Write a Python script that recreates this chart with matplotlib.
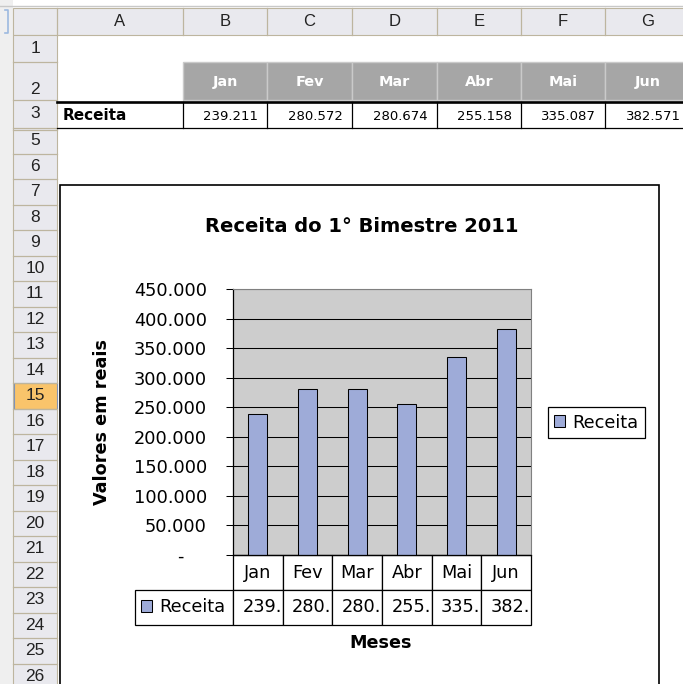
import matplotlib
matplotlib.use("Agg")
import matplotlib.pyplot as plt
from matplotlib.patches import Rectangle
from matplotlib.table import Table
from matplotlib.ticker import FuncFormatter

# dados da planilha
meses = ["Jan", "Fev", "Mar", "Abr", "Mai", "Jun"]
receita = [239211, 280572, 280674, 255158, 335087, 382571]
serie = "Receita"
titulo = "Receita do 1° Bimestre 2011"
eixo_y = "Valores em reais"
eixo_x = "Meses"
y_ticks = [0, 50000, 100000, 150000, 200000, 250000, 300000, 350000, 400000, 450000]
col_letras = ["A", "B", "C", "D", "E", "F", "G"]
linhas = [1, 2, 3, 5, 6, 7, 8, 9, 10, 11, 12, 13, 14, 15, 16, 17, 18, 19, 20,
          21, 22, 23, 24, 25, 26]
linha_ativa = 15

plt.rcParams["font.family"] = ["DejaVu Sans"]
NARROW = ["Liberation Sans Narrow", "Liberation Sans", "DejaVu Sans"]

HDR = "#E9E9EE"
TAN = "#BDB59F"
CINZA_CAB = "#A6A6A6"
AZUL = "#9EABD8"
FUNDO = "#CDCDCD"


def br(v):
    # formato contabil do Excel: ponto como milhar, traco para zero
    if v == 0:
        return "-    "
    return f"{int(v):,}".replace(",", ".")


W, H = 683, 684
fig = plt.figure(figsize=(W / 100, H / 100), dpi=100)

# --- planilha (coordenadas em pixels) ---
sheet = fig.add_axes([0, 0, 1, 1])
sheet.set_xlim(0, W)
sheet.set_ylim(H, 0)
sheet.axis("off")


def box(x0, y0, x1, y1, **kw):
    sheet.add_patch(Rectangle((x0, y0), x1 - x0, y1 - y0, **kw))


col_edges = [57, 183, 267, 352, 437, 521, 605, 690]
row_edges = [35, 62, 100, 128]
for k in range(len(linhas) - 3):
    row_edges.append(128 + 25.5 * (k + 1))

box(0, 0, 13, H, fc="#EFEFEF", ec="none")
sheet.plot([0, W], [6, 6], color="#C8C8C8", lw=1)
sheet.plot([5, 8, 8, 5], [10, 10, 33, 33], color="#9DB9E0", lw=1.2)

# cabecalho das colunas
box(13, 8, W + 10, 35, fc=HDR, ec=TAN, lw=0.8)
for x in col_edges:
    sheet.plot([x, x], [8, 35], color=TAN, lw=0.9)
for i, letra in enumerate(col_letras):
    cx = (col_edges[i] + col_edges[i + 1]) / 2
    sheet.text(cx, 22, letra, ha="center", va="center", fontsize=12,
               family=NARROW, color="#222222")

# cabecalho das linhas
box(13, 35, 57, H + 10, fc=HDR, ec=TAN, lw=0.8)
for i, n in enumerate(linhas):
    y0, y1 = row_edges[i], row_edges[i + 1]
    if n == linha_ativa:
        box(13.5, y0, 56.5, y1, fc="#F9C46B", ec="#7F93B8", lw=0.8)
    sheet.plot([13, 57], [y1, y1], color=TAN, lw=0.9)
    ty = y1 - 10 if n == 2 else (y0 + y1) / 2
    sheet.text(35, ty, str(n), ha="center", va="center", fontsize=12.5,
               family=NARROW, color="#222222")
sheet.plot([13, 57], [129.5, 129.5], color=TAN, lw=0.9)

# linha 2: meses em cinza
for i, m in enumerate(meses):
    box(col_edges[i + 1], 62, col_edges[i + 2], 100, fc=CINZA_CAB,
        ec="#CACACA", lw=1)
    cx = (col_edges[i + 1] + col_edges[i + 2]) / 2
    sheet.text(cx, 82, m, ha="center", va="center", fontsize=10.4,
               fontweight="bold", color="white")

# linha 3: valores
sheet.plot([57, W], [101.5, 101.5], color="black", lw=1.9)
sheet.plot([57, W], [128, 128], color="black", lw=0.9)
for x in col_edges[1:-1]:
    sheet.plot([x, x], [102, 128], color="black", lw=0.9)
sheet.text(63, 116, serie, ha="left", va="center", fontsize=11,
           fontweight="bold")
for i, v in enumerate(receita):
    sheet.text(col_edges[i + 2] - 9, 116, br(v), ha="right", va="center",
               fontsize=9.5)

# moldura do grafico
box(60, 185, 659, H + 20, fc="white", ec="black", lw=1.2)

# --- grafico ---
AX_L, AX_R, AX_T, AX_B = 233, 531, 289, 555
AW, AH = AX_R - AX_L, AX_B - AX_T
ax = fig.add_axes([AX_L / W, 1 - AX_B / H, AW / W, AH / H])


def ax_x(px):
    return (px - AX_L) / AW


def ax_y(py):
    return (AX_B - py) / AH


x = list(range(len(meses)))
barras = ax.bar(x, receita, width=0.38, color=AZUL, edgecolor="black",
                linewidth=0.75, label=serie, zorder=2)
ax.set_xlim(-0.5, len(meses) - 0.5)
ax.set_ylim(0, 450000)
ax.set_facecolor(FUNDO)
ax.set_axisbelow(True)
ax.yaxis.grid(True, color="black", lw=0.75)
ax.set_yticks(y_ticks)
ax.yaxis.set_major_formatter(FuncFormatter(lambda v, p: br(v)))
ax.tick_params(axis="y", length=5, width=0.75, pad=13.7, labelsize=12.8,
               direction="out")
ax.set_xticks([])
for s in ["top", "right"]:
    ax.spines[s].set_color("#808080")
    ax.spines[s].set_linewidth(0.8)
for s in ["left", "bottom"]:
    ax.spines[s].set_color("black")
    ax.spines[s].set_linewidth(0.9)

ax.text(ax_x(362), ax_y(227), titulo, transform=ax.transAxes, ha="center",
        va="center", fontsize=14, fontweight="bold")
ax.text(ax_x(102), ax_y(422), eixo_y, transform=ax.transAxes,
        rotation=90, ha="center", va="center", fontsize=12.7,
        fontweight="bold")
ax.text(ax_x(381), ax_y(643), eixo_x, transform=ax.transAxes, ha="center",
        va="center", fontsize=12.7, fontweight="bold")

# tabela de dados sob o eixo das categorias
tbl = Table(ax, loc="bottom")
cw = 1 / len(meses)
ch = 35 / AH
for j, m in enumerate(meses):
    c = tbl.add_cell(0, j, width=cw, height=ch, text=m, loc="center",
                     facecolor="white", edgecolor="black")
    c.set_linewidth(0.9)
c = tbl.add_cell(1, -1, width=(AX_L - 135) / AW, height=ch, text="",
                 facecolor="white", edgecolor="black")
c.set_linewidth(0.9)
for j, v in enumerate(receita):
    # o Excel corta o numero na largura da celula
    c = tbl.add_cell(1, j, width=cw, height=ch, text=br(v)[:4], loc="left",
                     facecolor="white", edgecolor="black")
    c.PAD = 0.19
    c.set_linewidth(0.9)
tbl.auto_set_font_size(False)
tbl.set_fontsize(12.8)
ax.add_table(tbl)

# legendas
leg_kw = dict(handlelength=0.62, handleheight=0.62, handletextpad=0.4,
              fontsize=12.8, loc="center left", borderaxespad=0)
leg1 = ax.legend(handles=[barras], labels=[serie],
                 bbox_to_anchor=(ax_x(548), ax_y(422.5)), frameon=True,
                 fancybox=False, edgecolor="black", framealpha=1,
                 borderpad=0.35, **leg_kw)
leg1.get_frame().set_linewidth(0.9)
ax.add_artist(leg1)
ax.legend(handles=[barras], labels=[serie],
          bbox_to_anchor=(ax_x(141), ax_y(607.5)), frameon=False,
          borderpad=0, **leg_kw)

fig.savefig("out.png", dpi=100)
